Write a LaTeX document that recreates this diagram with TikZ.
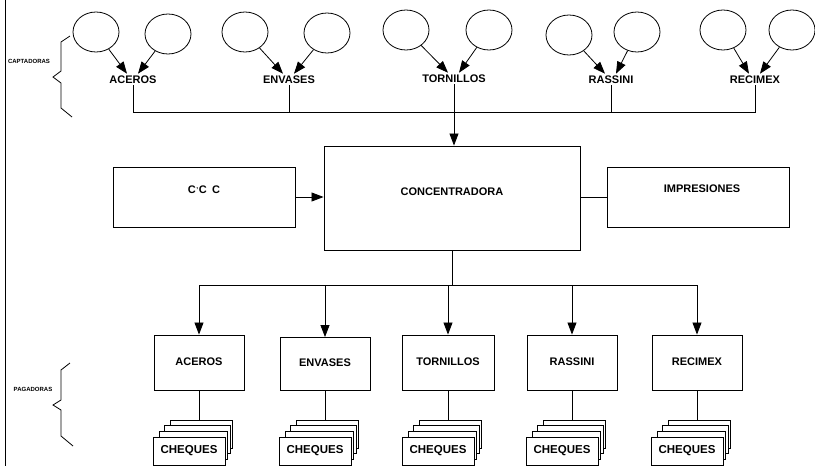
\documentclass[tikz,border=0pt]{standalone}
\usepackage{fontspec}
\setmainfont{Liberation Sans}
\usetikzlibrary{arrows.meta,shapes.geometric}
\newcommand{\chqstack}[2]{%
  \node[card,minimum width=62pt,minimum height=28pt] (#2-3) at (#1+2,434) {};
  \node[card,minimum width=66pt,minimum height=28pt] (#2-2) at (#1-2,439.5) {};
  \node[card,minimum width=68.5pt,minimum height=28pt] (#2-1) at (#1-5.75,445) {};
  \node[card,lbl,font=\fontsize{11.5}{12}\selectfont\bfseries,minimum width=72pt,minimum height=28pt] (#2-0) at (#1-10,451) {CHEQUES};
}
\begin{document}
\begin{tikzpicture}[x=1pt,y=-1pt,line width=0.8pt,
  oval/.style={draw, ellipse, minimum width=46pt, minimum height=40pt, inner sep=0pt},
  lbl/.style={font=\fontsize{11}{12}\selectfont\bfseries, inner sep=1pt},
  tiny/.style={font=\fontsize{6}{6}\selectfont\bfseries, inner sep=0pt},
  box/.style={draw, line width=0.9pt, inner sep=0pt},
  arr/.style={-{Triangle[length=12pt,width=9pt]}},
  card/.style={draw, fill=white, line width=0.9pt, inner sep=0pt},
]
\useasboundingbox (0,0) rectangle (815,466);
% left border
\draw (5,0) -- (5,466);
% braces and side labels
\node[tiny] (capt) at (29,61) {CAPTADORAS};
\draw (70,36) -- (61,42) -- (61,71) -- (53,77) -- (61,83) -- (61,108) -- (72,117);
\node[tiny] (paga) at (33,389) {PAGADORAS};
\draw (70,363) -- (61,370) -- (61,400) -- (53,405) -- (61,410) -- (61,436) -- (73,446);

% top: circles and labels
\node[oval] (a1) at (96,32) {};
\node[oval] (a2) at (168,34) {};
\node[lbl] (acL) at (133,80) {ACEROS};
\node[oval] (e1) at (245,32) {};
\node[oval] (e2) at (327,33) {};
\node[lbl] (enL) at (289,80) {ENVASES};
\node[oval] (t1) at (406,30) {};
\node[oval] (t2) at (489,30) {};
\node[lbl] (toL) at (454,79) {TORNILLOS};
\node[oval] (r1) at (569,35) {};
\node[oval] (r2) at (637,32) {};
\node[lbl] (raL) at (611,80) {RASSINI};
\node[oval] (x1) at (723,30) {};
\node[oval] (x2) at (792,30) {};
\node[lbl] (reL) at (755,80) {RECIMEX};

\foreach \c/\l/\s in {a1/acL/-6,a2/acL/5,e1/enL/-6,e2/enL/5,t1/toL/-6,t2/toL/5,r1/raL/-6,r2/raL/5,x1/reL/-6,x2/reL/5}{
  \draw[arr] (\c) -- ([xshift=\s pt,yshift=1pt]\l.north);
}

% top bus
\coordinate (b1) at (133,112);
\coordinate (b5) at (755,112);
\draw (acL) -- (b1) -- (b5) -- (reL);
\draw (enL) -- (enL |- b1);
\draw (raL) -- (raL |- b1);

% middle row
\node[box, minimum width=182pt, minimum height=60pt] (ccc) at (204,197) {};
\node[lbl] (cccT) at (204,190) {C\kern0.5pt\raisebox{1pt}{\fontsize{7}{7}\selectfont\textquoteright}\kern0.5pt C\enspace C};
\node[box, minimum width=256pt, minimum height=104pt] (conc) at (452,198) {};
\node[lbl] (concT) at (452,192) {CONCENTRADORA};
\node[box, minimum width=182pt, minimum height=60pt] (impr) at (698,197) {};
\node[lbl] (imprT) at (702,189) {IMPRESIONES};

\draw[arr] (toL.south) -- (toL.south |- conc.north);
\draw[arr] (ccc.east) -- (ccc.east -| conc.west);
\draw (conc.east |- impr.west) -- (impr.west);

% lower row
\node[box, minimum width=90pt, minimum height=55pt] (pa) at (199,362.5) {};
\node[lbl] (paT) at (199,362) {ACEROS};
\node[box, minimum width=90pt, minimum height=53pt] (pe) at (325,364) {};
\node[lbl] (peT) at (325,363) {ENVASES};
\node[box, minimum width=92pt, minimum height=55pt] (pt) at (448,362.5) {};
\node[lbl] (ptT) at (448,362) {TORNILLOS};
\node[box, minimum width=90pt, minimum height=55pt] (pr) at (572,362.5) {};
\node[lbl] (prT) at (572,362) {RASSINI};
\node[box, minimum width=90pt, minimum height=55pt] (px) at (697,362.5) {};
\node[lbl] (pxT) at (697,362) {RECIMEX};

\coordinate (lb) at (452,285);
\draw (conc.south) -- (lb);
\draw (pa.north |- lb) -- (px.north |- lb);
\foreach \b in {pa,pe,pt,pr,px}{
  \draw[arr] (\b.north |- lb) -- (\b.north);
}

% cheques stacks
\chqstack{199}{ca}
\chqstack{325}{ce}
\chqstack{448}{ct}
\chqstack{572}{cr}
\chqstack{697}{cx}
\foreach \b/\c in {pa/ca,pe/ce,pt/ct,pr/cr,px/cx}{
  \draw (\b.south) -- (\b.south |- \c-3.north);
}
\end{tikzpicture}
\end{document}
